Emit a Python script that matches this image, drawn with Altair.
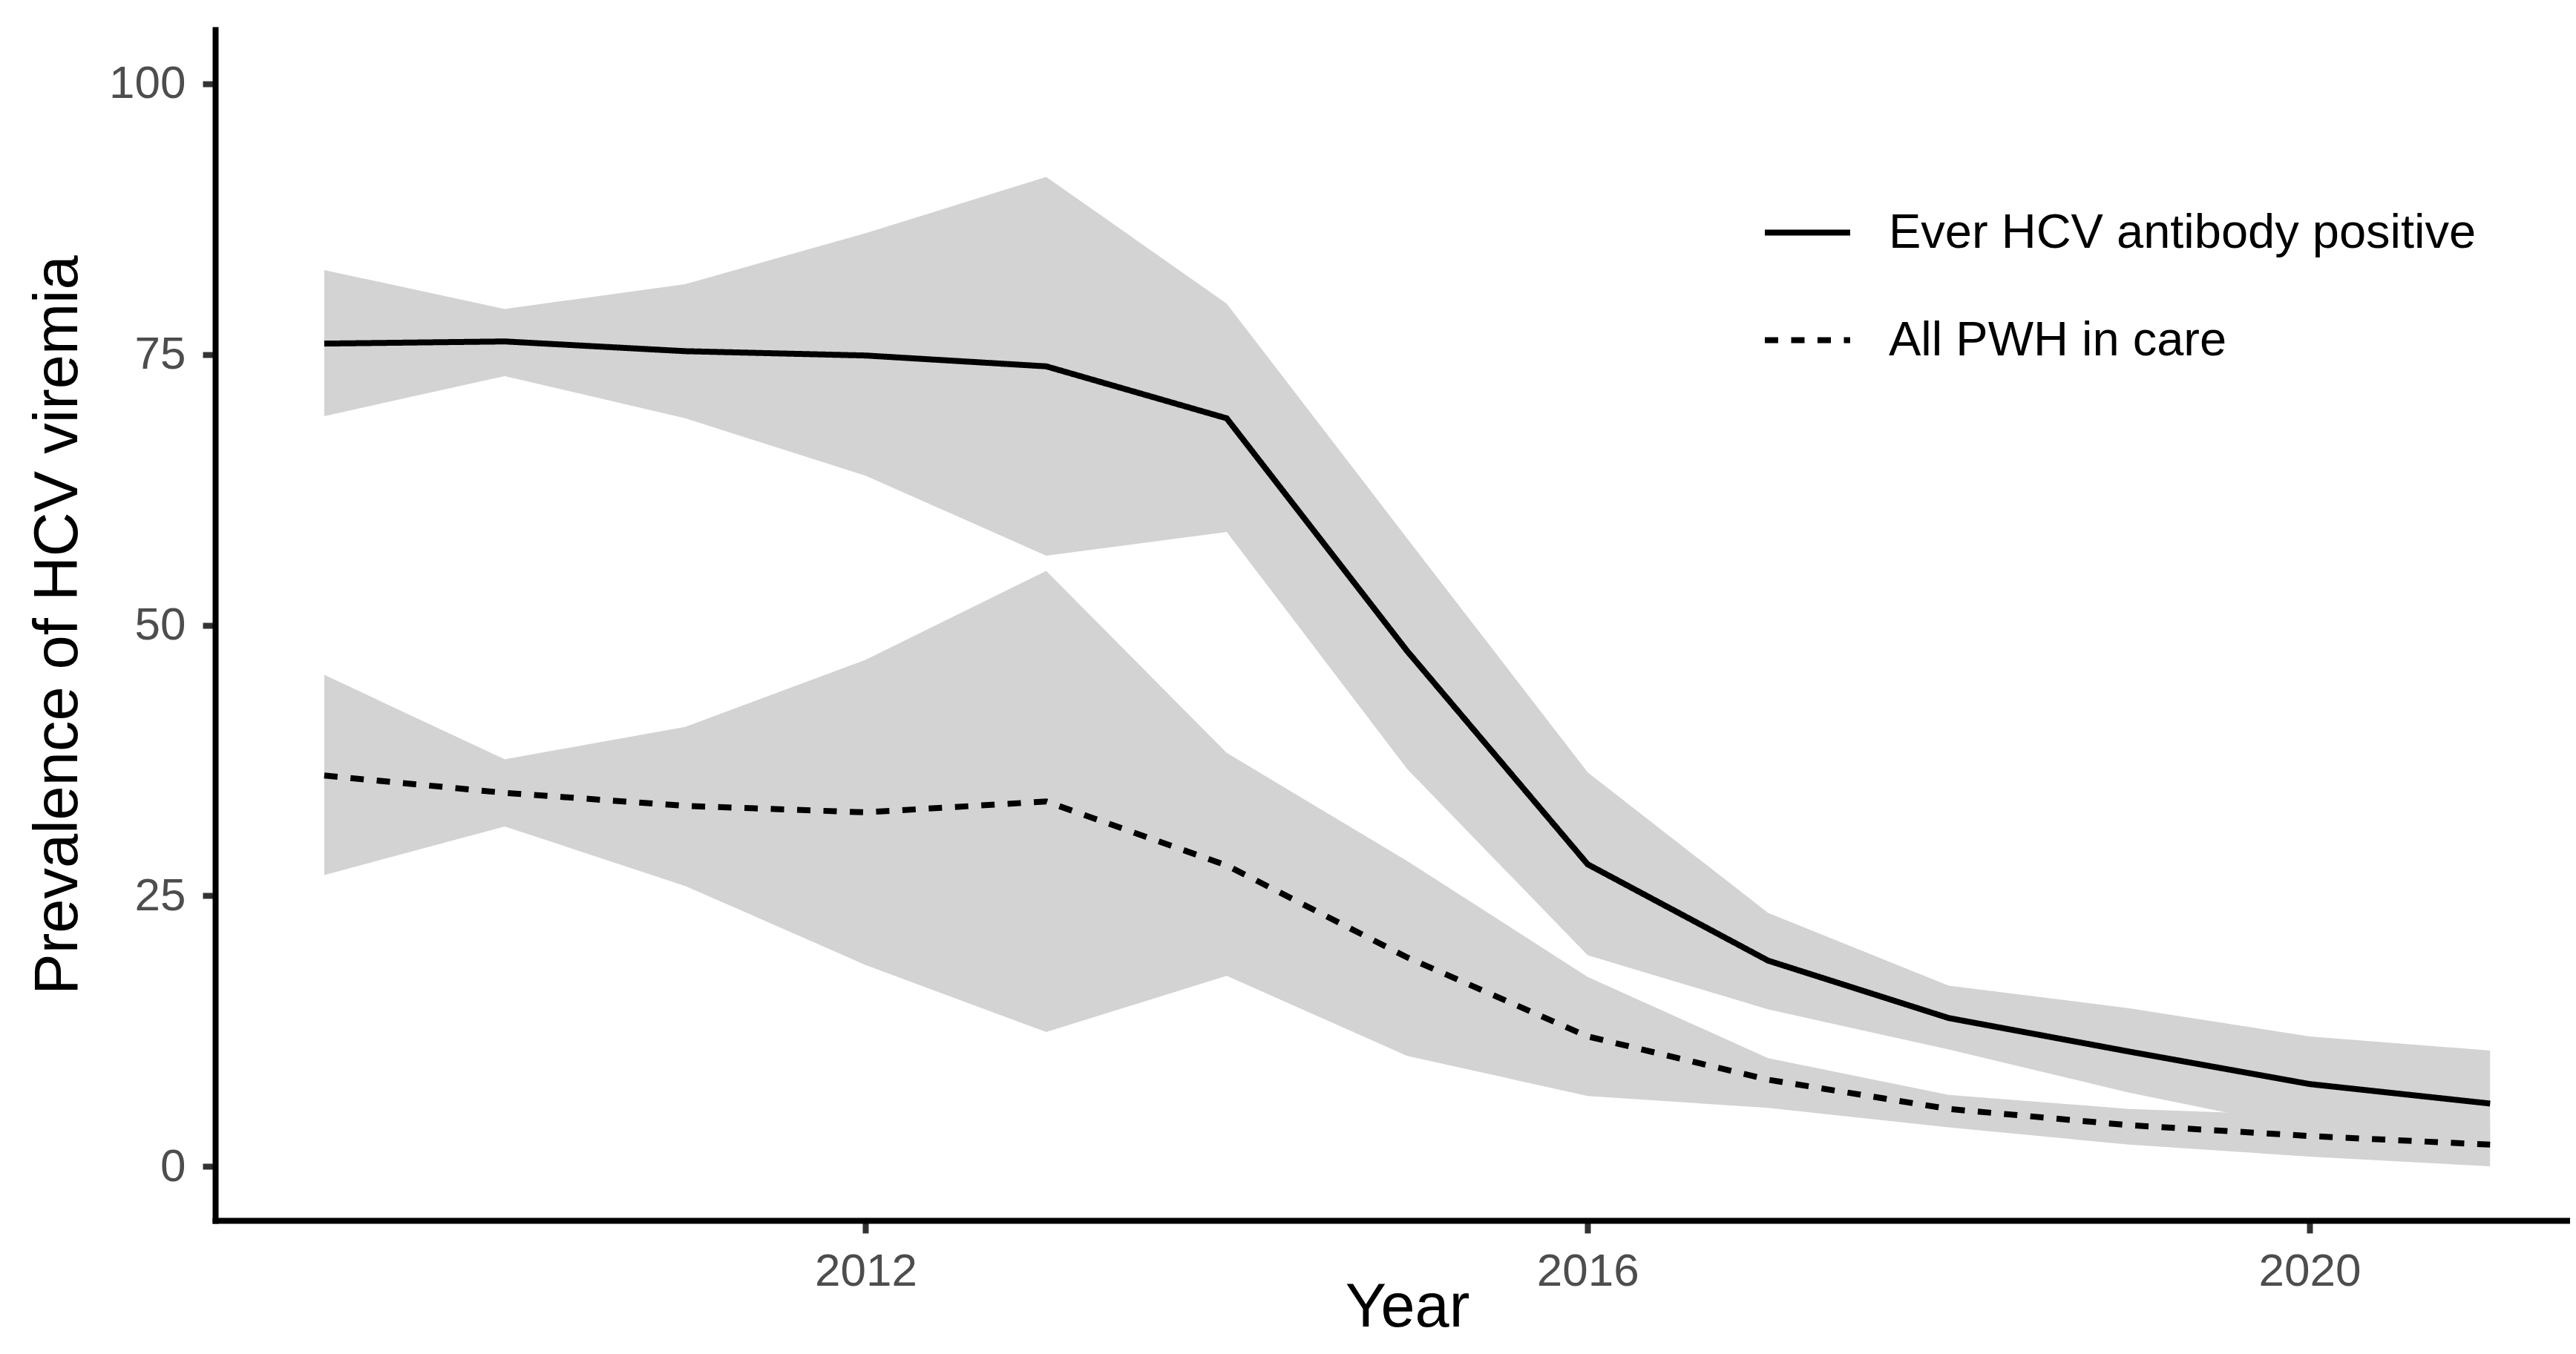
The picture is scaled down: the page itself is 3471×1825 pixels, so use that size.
import altair as alt
import pandas as pd

years = list(range(2009, 2022))
series_names = ["Ever HCV antibody positive", "All PWH in care"]

ever_est = [76.0, 76.2, 75.3, 74.9, 73.9, 69.1, 47.6, 27.9, 19.0, 13.7, 10.6, 7.6, 5.8]
ever_lo = [69.3, 73.0, 69.1, 63.8, 56.4, 58.6, 36.7, 19.5, 14.5, 10.8, 6.8, 3.4, 2.2]
ever_hi = [82.8, 79.2, 81.5, 86.2, 91.4, 79.7, 58.0, 36.4, 23.4, 16.7, 14.6, 12.0, 10.7]

all_est = [36.1, 34.5, 33.3, 32.7, 33.7, 27.8, 19.3, 12.0, 8.0, 5.3, 3.8, 2.8, 2.0]
all_lo = [26.9, 31.4, 25.9, 18.6, 12.4, 17.6, 10.2, 6.5, 5.4, 3.6, 2.0, 0.9, 0.0]
all_hi = [45.4, 37.6, 40.6, 46.8, 55.0, 38.2, 28.2, 17.5, 10.0, 6.6, 5.3, 4.7, 3.8]

x_ticks = [2012, 2016, 2020]
y_ticks = [0, 25, 50, 75, 100]

rows = []
for name, est, lo, hi in [
    (series_names[0], ever_est, ever_lo, ever_hi),
    (series_names[1], all_est, all_lo, all_hi),
]:
    for yr, e, l, h in zip(years, est, lo, hi):
        rows.append({"year": yr, "series": name, "est": e, "lo": l, "hi": h})
df = pd.DataFrame(rows)

FONT = "Liberation Sans"

x_enc = alt.X(
    "year:Q",
    scale=alt.Scale(domain=[2008.396, 2021.443], nice=False, zero=False),
    axis=alt.Axis(
        title="Year",
        values=x_ticks,
        format="d",
        labelBaseline="alphabetic",
        labelPadding=70,
        titleX=1606,
        titleY=142,
        titleBaseline="alphabetic",
        titleAlign="center",
    ),
)
y_scale = alt.Scale(domain=[-5, 105], nice=False, zero=False)

band = (
    alt.Chart(df)
    .mark_area(color="#D3D3D3", opacity=1)
    .encode(
        x=x_enc,
        y=alt.Y(
            "lo:Q",
            scale=y_scale,
            axis=alt.Axis(
                title="Prevalence of HCV viremia",
                values=y_ticks,
                labelPadding=23,
                titleX=-187,
                titleY=802,
                titleBaseline="alphabetic",
                titleAlign="center",
            ),
        ),
        y2="hi:Q",
        detail="series:N",
    )
)

lines = (
    alt.Chart(df)
    .mark_line(color="black", strokeWidth=8, strokeCap="butt")
    .encode(
        x=alt.X("year:Q"),
        y=alt.Y("est:Q"),
        strokeDash=alt.StrokeDash(
            "series:N",
            scale=alt.Scale(domain=series_names, range=[[1, 0], [18, 17.5]]),
            legend=alt.Legend(
                orient="none",
                legendX=2084,
                legendY=212,
                title=None,
                symbolType="stroke",
                symbolSize=13225,
                symbolStrokeWidth=8,
                symbolStrokeColor="black",
                labelFontSize=65,
                labelColor="black",
                labelFont=FONT,
                labelOffset=48,
                rowPadding=50,
                labelLimit=0,
            ),
        ),
    )
)

chart = (
    alt.layer(band, lines)
    .properties(
        width=3173,
        height=1605,
        autosize=alt.AutoSizeParams(type="none"),
        padding={"left": 282, "top": 32, "right": 0, "bottom": 172},
    )
    .configure_view(stroke=None)
    .configure_axis(
        grid=False,
        domainColor="black",
        domainWidth=8,
        domainCap="square",
        tickColor="#333333",
        tickWidth=8,
        tickSize=17,
        labelFont=FONT,
        labelFontSize=62,
        labelColor="#4D4D4D",
        titleFont=FONT,
        titleFontSize=83,
        titleFontWeight="normal",
        titleColor="black",
    )
)

chart.save("out.html", embed_options={"renderer": "svg", "actions": False})
